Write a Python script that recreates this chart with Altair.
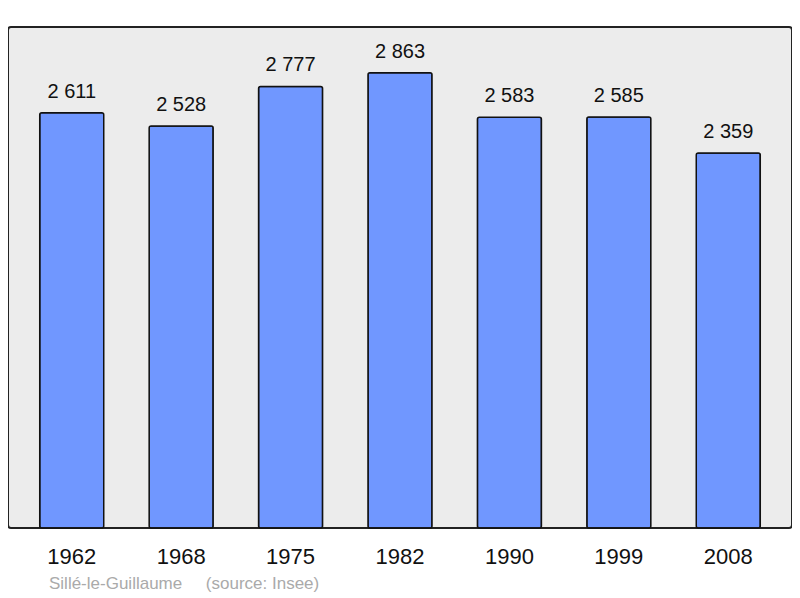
import altair as alt
import pandas as pd

years = ["1962", "1968", "1975", "1982", "1990", "1999", "2008"]
population = [2611, 2528, 2777, 2863, 2583, 2585, 2359]
labels = ["2 611", "2 528", "2 777", "2 863", "2 583", "2 585", "2 359"]

df = pd.DataFrame({"year": years, "pop": population, "label": labels})

FONT = "Liberation Sans"

x = alt.X("year:N", sort=years, title=None,
          scale=alt.Scale(paddingInner=0.415, paddingOuter=0.29),
          axis=alt.Axis(labelAngle=0, labelFontSize=22, labelFont=FONT, labelColor="#111",
                        domain=False, ticks=False, labelPadding=18))
y = alt.Y("pop:Q", scale=alt.Scale(domain=[0, 3151], nice=False, zero=True), axis=None)

bars = alt.Chart(df).mark_bar(color="#7097ff", stroke="#111", strokeWidth=1.5,
                              cornerRadius=2).encode(x=x, y=y)
text = alt.Chart(df).mark_text(dy=-15, baseline="alphabetic", fontSize=20, font=FONT,
                               color="#111").encode(x=x, y=y, text="label:N")

chart = (bars + text).properties(
    width=784, height=501,
    padding={"left": 0, "top": 19, "right": 0, "bottom": 0},
    autosize=alt.AutoSizeParams(type="pad"),
    title=alt.TitleParams("Sillé-le-Guillaume\u00a0\u00a0\u00a0\u00a0\u00a0(source: Insee)",
                          orient="bottom", anchor="start", dx=41, offset=9,
                          fontSize=17, font=FONT, color="#aaaaaa", fontWeight="normal"),
).configure(background="white"
).configure_view(fill="#ececec", stroke="#222", strokeWidth=2, cornerRadius=3)

chart.save("out.html", embed_options={"renderer": "svg", "actions": False})
